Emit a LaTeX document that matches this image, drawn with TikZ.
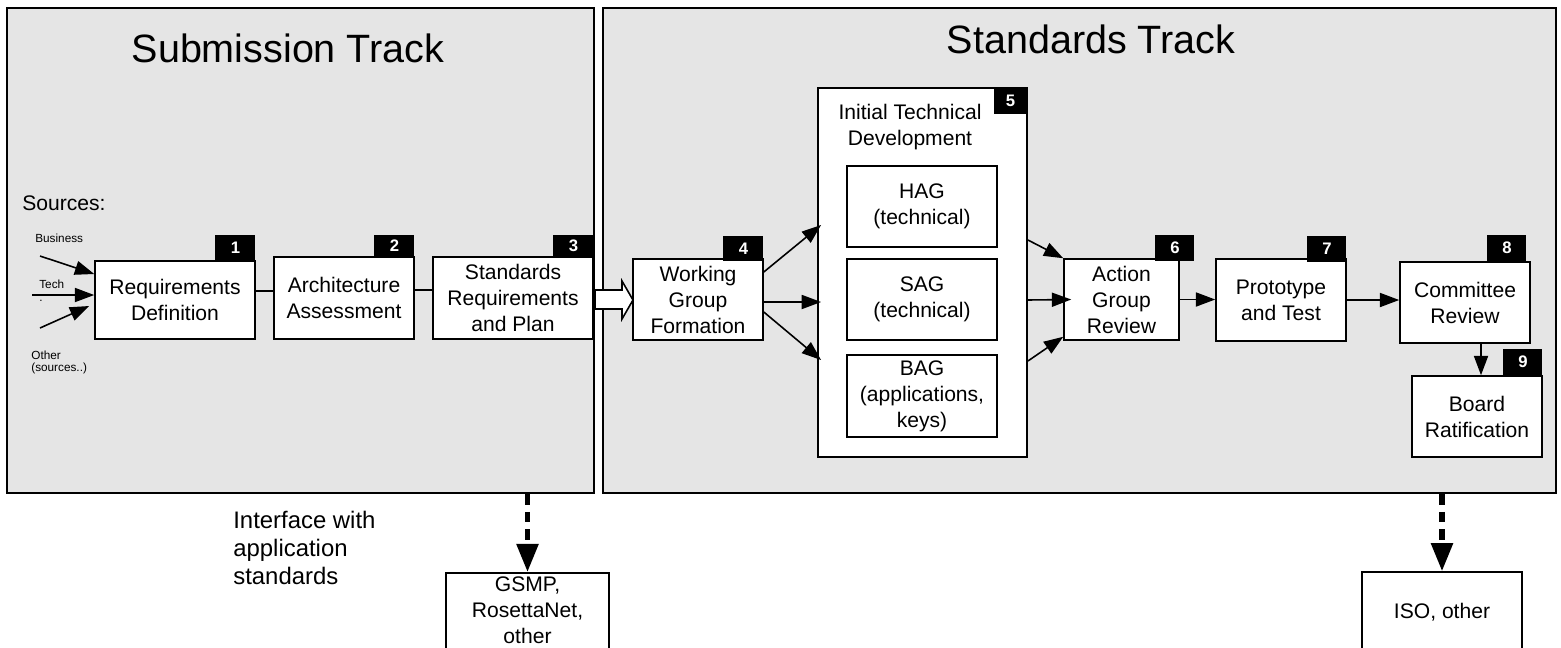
\documentclass[tikz,border=0pt]{standalone}
\usepackage{fontspec}
\setmainfont{Liberation Sans}
\usetikzlibrary{arrows.meta}

\begin{document}
\begin{tikzpicture}[
        x=0.02cm, y=-0.02cm,
        track/.style={
            draw,
            line width=1.4pt,
            fill=black!10,
            inner sep=0pt
        },
        track_title/.style={
            font=\fontsize{22.5}{27}\selectfont,
            inner sep=0pt
        },
        stage/.style={
            draw,
            line width=0.9pt,
            fill=white,
            align=center,
            inner sep=0pt,
            minimum height=1.62cm,
            font=\fontsize{12}{14.8}\selectfont
        },
        num_tag/.style={
            fill=black,
            text=white,
            inner sep=0pt,
            anchor=south east,
            minimum width=0.78cm,
            minimum height=0.5cm,
            font=\fontsize{9.5}{10}\selectfont\bfseries
        },
        src_label/.style={
            font=\fontsize{6.7}{8}\selectfont,
            anchor=west,
            inner sep=0pt
        },
        flow/.style={line width=0.9pt, -{Triangle[length=11pt,width=8pt]}},
        link/.style={line width=0.9pt},
        export/.style={line width=3pt, dash pattern=on 6pt off 4pt, -{Triangle[length=16pt,width=12pt]}}
    ]
        \useasboundingbox (0,0) rectangle (1561,647);

        % tracks
        \node[track, minimum width=11.74cm, minimum height=9.7cm] (subtrack) at (300.5,250.5) {};
        \node[track, minimum width=19.06cm, minimum height=9.7cm] (stdtrack) at (1079.5,250.5) {};
        \node[track_title] (subtitle) at (288,48) {Submission Track};
        \node[track_title] (stdtitle) at (1091,39) {Standards Track};

        % sources
        \node[anchor=west, inner sep=0pt, font=\fontsize{12}{14}\selectfont] (sources) at (22,203) {Sources:};
        \node[src_label] (business) at (35,238) {Business};
        \node[src_label] (tech) at (39,284) {Tech};
        \node[src_label] (dot) at (39,301) {.};
        \node[src_label] (other) at (31,355) {Other};
        \node[src_label] (othersrc) at (31,368) {(sources..)};
        \coordinate (biz_src) at (40,256);
        \coordinate (tech_src) at (32,295);
        \coordinate (other_src) at (40,328);

        % submission stages
        \node[stage, minimum width=3.2cm, minimum height=1.56cm] (reqdef) at (175,300) {Requirements\\Definition};
        \node[stage, minimum width=2.8cm, minimum height=1.64cm] (archass) at (344,298) {Architecture\\Assessment};
        \node[stage, minimum width=3.2cm, minimum height=1.64cm] (stdreq) at (513,298) {Standards\\Requirements\\and Plan};

        % standards stages
        \node[stage, minimum width=2.6cm] (wgform) at (698,299.5) {Working\\Group\\Formation};
        \node[stage, minimum width=4.18cm, minimum height=7.38cm, line width=1.1pt] (itd) at (922.5,272.5) {};
        \node[align=center, inner sep=0pt, font=\fontsize{12}{14.8}\selectfont] (itdtitle) at (910,127) {Initial Technical\\Development};
        \node[stage, minimum width=3cm] (hag) at (922,206.5) {HAG\\(technical)};
        \node[stage, minimum width=3cm] (sag) at (922,299.5) {SAG\\(technical)};
        \node[stage, minimum width=3cm, minimum height=1.64cm] (bag) at (922,396) {BAG\\(applications,\\keys)};
        \node[stage, minimum width=2.3cm] (agrev) at (1121.5,299.5) {Action\\Group\\Review};
        \node[stage, minimum width=2.6cm, minimum height=1.64cm] (proto) at (1281,300) {Prototype\\and Test};
        \node[stage, minimum width=2.6cm] (comrev) at (1465,302.5) {Committee\\Review};
        \node[stage, minimum width=2.6cm] (board) at (1477,416.5) {Board\\Ratification};

        % number tags
        \node[num_tag, minimum width=0.8cm] (tag1) at (reqdef.north east) {1};
        \node[num_tag, minimum width=0.8cm, minimum height=0.42cm] (tag2) at (archass.north east) {2};
        \node[num_tag, minimum width=0.8cm, minimum height=0.42cm] (tag3) at (stdreq.north east) {3};
        \node[num_tag, minimum width=0.8cm] (tag4) at ([yshift=-0.06cm]wgform.north east) {4};
        \node[num_tag, anchor=north east, minimum width=0.68cm, minimum height=0.54cm] (tag5) at (itd.north east) {5};
        \node[num_tag, minimum height=0.52cm] (tag6) at ([xshift=0.3cm,yshift=-0.06cm]agrev.north east) {6};
        \node[num_tag, minimum height=0.52cm] (tag7) at ([yshift=-0.08cm]proto.north east) {7};
        \node[num_tag, minimum height=0.52cm] (tag8) at ([xshift=-0.08cm]comrev.north east) {8};
        \node[num_tag, minimum height=0.52cm] (tag9) at (board.north east) {9};

        % outside standards
        \node[stage, anchor=north, minimum width=3.26cm, minimum height=0pt, inner ysep=2.5pt] (gsmp) at (527.5,572) {GSMP,\\RosettaNet,\\other};
        \node[stage, minimum width=3.2cm, minimum height=1.6cm] (iso) at (1442,612) {ISO, other};
        \node[anchor=west, align=left, inner sep=0pt, font=\fontsize{13.6}{15.9}\selectfont] (iface) at (233,548) {Interface with\\application\\standards};

        % connectors
        \draw[flow] (biz_src) -- ([yshift=0.52cm]reqdef.west);
        \draw[flow] (tech_src) -- ([yshift=0.1cm]reqdef.west);
        \draw[flow] (other_src) -- ([xshift=-0.1cm,yshift=-0.12cm]reqdef.west);
        \draw[link] ([yshift=0.18cm]reqdef.east) -- ([yshift=0.18cm]reqdef.east -| archass.west);
        \draw[link] ([yshift=0.16cm]archass.east) -- ([yshift=0.16cm]archass.east -| stdreq.west);
        \draw[line width=0.9pt, fill=white] (595,290) -- (622,290) -- (622,281) -- (633,300)
            -- (622,319) -- (622,309) -- (595,309) -- cycle;

        \draw[flow] ([yshift=0.55cm]wgform.east) -- ([xshift=0.08cm,yshift=0.95cm]itd.west);
        \draw[flow] ([yshift=-0.05cm]wgform.east) -- ([xshift=0.08cm,yshift=-0.59cm]itd.west);
        \draw[flow] ([yshift=-0.25cm]wgform.east) -- ([xshift=0.08cm,yshift=-1.75cm]itd.west);

        \draw[flow] ([yshift=0.65cm]itd.east) -- (agrev.north west);
        \draw[flow] ([yshift=-0.55cm]itd.east) -- ([xshift=0.16cm]agrev.west);
        \draw[flow] ([yshift=-1.77cm]itd.east) -- ([yshift=0.08cm]agrev.south west);

        \draw[flow] (agrev.east) -- (agrev.east -| proto.west);
        \draw[flow] (proto.east) -- (proto.east -| comrev.west);
        \draw[flow] ([xshift=0.32cm]comrev.south) -- ([xshift=0.32cm]comrev.south |- board.north);

        \draw[export] (subtrack.south -| gsmp.north) -- (gsmp.north);
        \draw[export] (stdtrack.south -| iso.north) -- (iso.north);
    \end{tikzpicture}
\end{document}
